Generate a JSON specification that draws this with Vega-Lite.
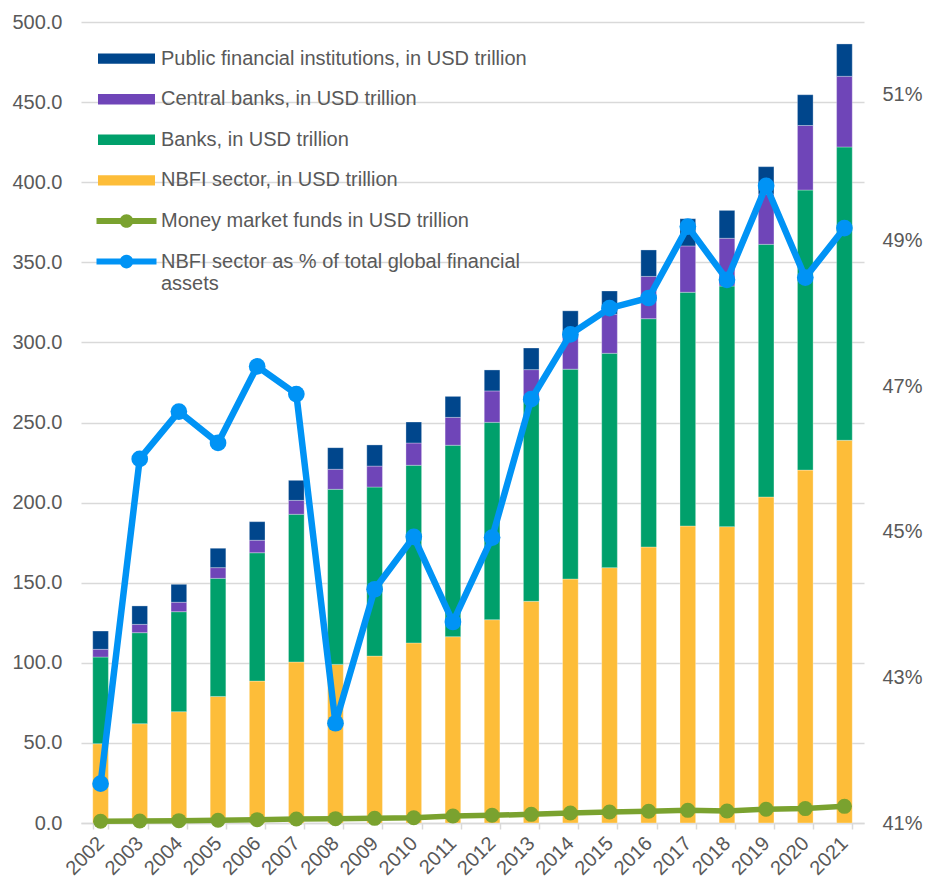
{
  "$schema": "https://vega.github.io/schema/vega-lite/v6.json",
  "width": 783,
  "height": 801,
  "autosize": {"type": "none"},
  "padding": {"left": 81, "top": 22, "right": 62, "bottom": 59},
  "background": "white",
  "config": {
    "view": {"stroke": null},
    "font": "Liberation Sans",
    "axis": {
      "labelFont": "Liberation Sans",
      "labelFontSize": 20,
      "labelColor": "#595959",
      "gridColor": "#D9D9D9",
      "gridWidth": 1.5,
      "domain": false,
      "ticks": false,
      "tickSize": 0,
      "title": null
    }
  },
  "datasets": {
    "bars": [
      {"year": "2002", "series": "NBFI sector, in USD trillion", "value": 49.5},
      {"year": "2002", "series": "Banks, in USD trillion", "value": 54.1},
      {"year": "2002", "series": "Central banks, in USD trillion", "value": 4.8},
      {"year": "2002", "series": "Public financial institutions, in USD trillion", "value": 11.4},
      {"year": "2003", "series": "NBFI sector, in USD trillion", "value": 62.0},
      {"year": "2003", "series": "Banks, in USD trillion", "value": 56.8},
      {"year": "2003", "series": "Central banks, in USD trillion", "value": 5.2},
      {"year": "2003", "series": "Public financial institutions, in USD trillion", "value": 11.5},
      {"year": "2004", "series": "NBFI sector, in USD trillion", "value": 69.5},
      {"year": "2004", "series": "Banks, in USD trillion", "value": 62.4},
      {"year": "2004", "series": "Central banks, in USD trillion", "value": 5.9},
      {"year": "2004", "series": "Public financial institutions, in USD trillion", "value": 11.2},
      {"year": "2005", "series": "NBFI sector, in USD trillion", "value": 79.0},
      {"year": "2005", "series": "Banks, in USD trillion", "value": 73.7},
      {"year": "2005", "series": "Central banks, in USD trillion", "value": 6.7},
      {"year": "2005", "series": "Public financial institutions, in USD trillion", "value": 12.1},
      {"year": "2006", "series": "NBFI sector, in USD trillion", "value": 88.6},
      {"year": "2006", "series": "Banks, in USD trillion", "value": 80.1},
      {"year": "2006", "series": "Central banks, in USD trillion", "value": 7.8},
      {"year": "2006", "series": "Public financial institutions, in USD trillion", "value": 11.6},
      {"year": "2007", "series": "NBFI sector, in USD trillion", "value": 100.5},
      {"year": "2007", "series": "Banks, in USD trillion", "value": 92.2},
      {"year": "2007", "series": "Central banks, in USD trillion", "value": 8.7},
      {"year": "2007", "series": "Public financial institutions, in USD trillion", "value": 12.5},
      {"year": "2008", "series": "NBFI sector, in USD trillion", "value": 99.0},
      {"year": "2008", "series": "Banks, in USD trillion", "value": 109.3},
      {"year": "2008", "series": "Central banks, in USD trillion", "value": 12.5},
      {"year": "2008", "series": "Public financial institutions, in USD trillion", "value": 13.5},
      {"year": "2009", "series": "NBFI sector, in USD trillion", "value": 104.2},
      {"year": "2009", "series": "Banks, in USD trillion", "value": 105.5},
      {"year": "2009", "series": "Central banks, in USD trillion", "value": 13.1},
      {"year": "2009", "series": "Public financial institutions, in USD trillion", "value": 13.2},
      {"year": "2010", "series": "NBFI sector, in USD trillion", "value": 112.4},
      {"year": "2010", "series": "Banks, in USD trillion", "value": 110.9},
      {"year": "2010", "series": "Central banks, in USD trillion", "value": 13.9},
      {"year": "2010", "series": "Public financial institutions, in USD trillion", "value": 13.1},
      {"year": "2011", "series": "NBFI sector, in USD trillion", "value": 116.3},
      {"year": "2011", "series": "Banks, in USD trillion", "value": 119.5},
      {"year": "2011", "series": "Central banks, in USD trillion", "value": 17.4},
      {"year": "2011", "series": "Public financial institutions, in USD trillion", "value": 13.1},
      {"year": "2012", "series": "NBFI sector, in USD trillion", "value": 126.9},
      {"year": "2012", "series": "Banks, in USD trillion", "value": 123.2},
      {"year": "2012", "series": "Central banks, in USD trillion", "value": 19.6},
      {"year": "2012", "series": "Public financial institutions, in USD trillion", "value": 13.1},
      {"year": "2013", "series": "NBFI sector, in USD trillion", "value": 138.4},
      {"year": "2013", "series": "Banks, in USD trillion", "value": 125.5},
      {"year": "2013", "series": "Central banks, in USD trillion", "value": 19.1},
      {"year": "2013", "series": "Public financial institutions, in USD trillion", "value": 13.5},
      {"year": "2014", "series": "NBFI sector, in USD trillion", "value": 152.3},
      {"year": "2014", "series": "Banks, in USD trillion", "value": 131.0},
      {"year": "2014", "series": "Central banks, in USD trillion", "value": 22.0},
      {"year": "2014", "series": "Public financial institutions, in USD trillion", "value": 14.4},
      {"year": "2015", "series": "NBFI sector, in USD trillion", "value": 159.4},
      {"year": "2015", "series": "Banks, in USD trillion", "value": 133.8},
      {"year": "2015", "series": "Central banks, in USD trillion", "value": 24.4},
      {"year": "2015", "series": "Public financial institutions, in USD trillion", "value": 14.5},
      {"year": "2016", "series": "NBFI sector, in USD trillion", "value": 172.3},
      {"year": "2016", "series": "Banks, in USD trillion", "value": 142.5},
      {"year": "2016", "series": "Central banks, in USD trillion", "value": 26.4},
      {"year": "2016", "series": "Public financial institutions, in USD trillion", "value": 16.5},
      {"year": "2017", "series": "NBFI sector, in USD trillion", "value": 185.4},
      {"year": "2017", "series": "Banks, in USD trillion", "value": 145.9},
      {"year": "2017", "series": "Central banks, in USD trillion", "value": 28.9},
      {"year": "2017", "series": "Public financial institutions, in USD trillion", "value": 17.0},
      {"year": "2018", "series": "NBFI sector, in USD trillion", "value": 185.0},
      {"year": "2018", "series": "Banks, in USD trillion", "value": 150.2},
      {"year": "2018", "series": "Central banks, in USD trillion", "value": 29.8},
      {"year": "2018", "series": "Public financial institutions, in USD trillion", "value": 17.4},
      {"year": "2019", "series": "NBFI sector, in USD trillion", "value": 203.5},
      {"year": "2019", "series": "Banks, in USD trillion", "value": 157.7},
      {"year": "2019", "series": "Central banks, in USD trillion", "value": 31.4},
      {"year": "2019", "series": "Public financial institutions, in USD trillion", "value": 17.1},
      {"year": "2020", "series": "NBFI sector, in USD trillion", "value": 220.3},
      {"year": "2020", "series": "Banks, in USD trillion", "value": 174.8},
      {"year": "2020", "series": "Central banks, in USD trillion", "value": 40.3},
      {"year": "2020", "series": "Public financial institutions, in USD trillion", "value": 19.2},
      {"year": "2021", "series": "NBFI sector, in USD trillion", "value": 238.9},
      {"year": "2021", "series": "Banks, in USD trillion", "value": 183.1},
      {"year": "2021", "series": "Central banks, in USD trillion", "value": 44.1},
      {"year": "2021", "series": "Public financial institutions, in USD trillion", "value": 20.2}
    ],
    "lines": [
      {"year": "2002", "mmf": 1.1, "pct": 0.4154},
      {"year": "2003", "mmf": 1.25, "pct": 0.4600},
      {"year": "2004", "mmf": 1.45, "pct": 0.4665},
      {"year": "2005", "mmf": 1.7, "pct": 0.4622},
      {"year": "2006", "mmf": 2.1, "pct": 0.4727},
      {"year": "2007", "mmf": 2.5, "pct": 0.4689},
      {"year": "2008", "mmf": 2.7, "pct": 0.4237},
      {"year": "2009", "mmf": 2.9, "pct": 0.4421},
      {"year": "2010", "mmf": 3.3, "pct": 0.4493},
      {"year": "2011", "mmf": 4.4, "pct": 0.4376},
      {"year": "2012", "mmf": 4.8, "pct": 0.4492},
      {"year": "2013", "mmf": 5.4, "pct": 0.4682},
      {"year": "2014", "mmf": 6.2, "pct": 0.4771},
      {"year": "2015", "mmf": 6.9, "pct": 0.4807},
      {"year": "2016", "mmf": 7.3, "pct": 0.4821},
      {"year": "2017", "mmf": 7.9, "pct": 0.4919},
      {"year": "2018", "mmf": 7.5, "pct": 0.4846},
      {"year": "2019", "mmf": 8.6, "pct": 0.4975},
      {"year": "2020", "mmf": 9.0, "pct": 0.4849},
      {"year": "2021", "mmf": 10.4, "pct": 0.4917}
    ]
  },
  "layer": [
    {
      "layer": [
        {
          "data": {"name": "bars"},
          "transform": [
            {"calculate": "indexof(['NBFI sector, in USD trillion', 'Banks, in USD trillion', 'Central banks, in USD trillion', 'Public financial institutions, in USD trillion'], datum.series)", "as": "ord"}
          ],
          "mark": {"type": "bar", "stroke": "#ffffff", "strokeWidth": 0.5, "strokeOpacity": 0.6},
          "encoding": {
            "x": {
              "field": "year", "type": "ordinal",
              "scale": {"paddingInner": 0.6, "paddingOuter": 0.3},
              "axis": {
                "title": null,
                "labelAngle": -45,
                "labelAlign": "right",
                "labelBaseline": "middle",
                "labelFontSize": 20,
                "labelPadding": 11,
                "domain": true,
                "domainColor": "#D9D9D9",
                "domainWidth": 1.5,
                "ticks": true,
                "tickColor": "#D9D9D9",
                "tickWidth": 1.5,
                "tickSize": 6,
                "tickBand": "extent",
                "grid": false
              }
            },
            "y": {
              "field": "value", "type": "quantitative", "stack": "zero",
              "scale": {"domain": [0, 500], "nice": false},
              "axis": {
                "title": null,
                "values": [0, 50, 100, 150, 200, 250, 300, 350, 400, 450, 500],
                "format": ".1f",
                "grid": true,
                "labelPadding": 19
              }
            },
            "color": {
              "field": "series", "type": "nominal",
              "scale": {
                "domain": [
                  "Public financial institutions, in USD trillion",
                  "Central banks, in USD trillion",
                  "Banks, in USD trillion",
                  "NBFI sector, in USD trillion",
                  "Money market funds in USD trillion",
                  "NBFI sector as % of total global financial assets"
                ],
                "range": ["#00468C", "#6F45B8", "#00A06B", "#FDBD39", "#7AA22F", "#0093F5"]
              },
              "legend": {
                "title": null,
                "orient": "none",
                "legendX": 35.5,
                "legendY": 26.6,
                "labelFont": "Liberation Sans",
                "labelFontSize": 20,
                "labelColor": "#595959",
                "labelLimit": 700,
                "labelOffset": 24.5,
                "symbolSize": 400,
                "symbolStrokeWidth": 0,
                "symbolOpacity": 1,
                "symbolType": {"expr": "(datum.value == 'Money market funds in USD trillion' || datum.value == 'NBFI sector as % of total global financial assets') ? 'M-3,-0.3H3V0.3H-3Z M-0.68,0A0.68,0.68 0 1,1 0.68,0A0.68,0.68 0 1,1 -0.68,0Z' : 'M-2.85,-0.52H2.85V0.52H-2.85Z'"},
                "rowPadding": 20.6,
                "labelExpr": "datum.label == 'NBFI sector as % of total global financial assets' ? ['NBFI sector as % of total global financial', 'assets'] : datum.label",
                "encode": {
                  "symbols": {
                    "fill": {"scale": "color", "field": "value"},
                    "stroke": {"value": "transparent"},
                    "opacity": {"value": 1}
                  },
                  "labels": {
                    "lineHeight": {"value": 23.5}
                  }
                }
              }
            },
            "order": {"field": "ord", "type": "quantitative"}
          }
        },
        {
          "data": {"name": "lines"},
          "mark": {"type": "line", "strokeWidth": 5.5, "point": {"filled": true, "size": 225, "opacity": 1}},
          "encoding": {
            "x": {"field": "year", "type": "ordinal"},
            "y": {"field": "mmf", "type": "quantitative", "axis": {"title": null}},
            "color": {"datum": "Money market funds in USD trillion"}
          }
        }
      ]
    },
    {
      "data": {"name": "lines"},
      "mark": {"type": "line", "strokeWidth": 6.5, "point": {"filled": true, "size": 279, "opacity": 1}},
      "encoding": {
        "x": {"field": "year", "type": "ordinal"},
        "y": {
          "field": "pct", "type": "quantitative",
          "scale": {"domain": [0.41, 0.52], "nice": false, "zero": false},
          "axis": {
            "orient": "right",
            "title": null,
            "values": [0.41, 0.43, 0.45, 0.47, 0.49, 0.51],
            "format": ".0%",
            "grid": false,
            "labelPadding": 18
          }
        },
        "color": {"datum": "NBFI sector as % of total global financial assets"}
      }
    }
  ],
  "resolve": {"scale": {"y": "independent"}}
}
